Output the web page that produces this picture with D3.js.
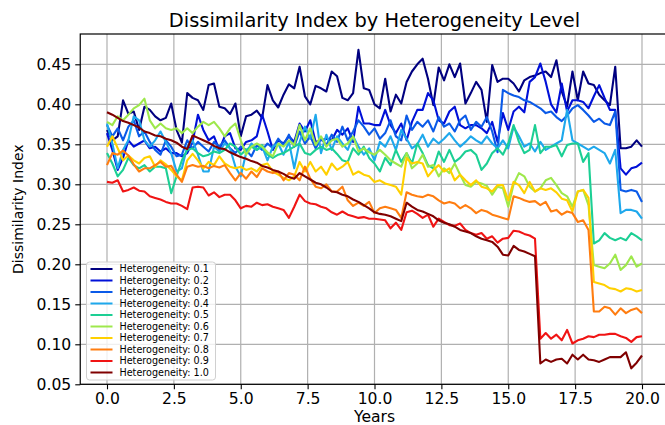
<!DOCTYPE html>
<html>
<head>
<meta charset="utf-8">
<script src="https://cdn.jsdelivr.net/npm/d3@7"></script>
<style>
  html, body { margin: 0; padding: 0; background: #ffffff; }
  text { font-family: "DejaVu Sans", sans-serif; }
</style>
</head>
<body>
<script>
// ---------------- data ----------------
const years = d3.range(101).map(i => +(i * 0.2).toFixed(1));

const seriesNames = ["Heterogeneity: 0.1","Heterogeneity: 0.2","Heterogeneity: 0.3","Heterogeneity: 0.4","Heterogeneity: 0.5",
                     "Heterogeneity: 0.6","Heterogeneity: 0.7","Heterogeneity: 0.8","Heterogeneity: 0.9","Heterogeneity: 1.0"];
const seriesColors = ["#000080","#0010d8","#0a5ae8","#1ea8ec","#1ccf94","#9ee84c","#ffd000","#ff7d10","#f01414","#800000"];

const h01 = [0.368,0.355,0.360,0.405,0.388,0.391,0.368,0.397,0.393,0.385,
             0.380,0.383,0.401,0.368,0.352,0.414,0.408,0.405,0.393,0.424,
             0.426,0.397,0.395,0.388,0.401,0.360,0.385,0.387,0.392,0.383,
             0.424,0.405,0.396,0.412,0.425,0.420,0.447,0.410,0.400,0.423,
             0.420,0.416,0.441,0.435,0.408,0.405,0.414,0.468,0.420,0.418,
             0.400,0.395,0.432,0.391,0.412,0.401,0.428,0.441,0.450,0.457,
             0.432,0.399,0.446,0.430,0.450,0.434,0.451,0.401,0.414,0.428,
             0.418,0.378,0.449,0.428,0.432,0.432,0.426,0.416,0.430,0.434,
             0.436,0.439,0.441,0.434,0.455,0.416,0.397,0.441,0.405,0.441,
             0.426,0.424,0.412,0.405,0.399,0.447,0.345,0.345,0.347,0.355,
             0.347];
const h02 = [0.364,0.343,0.318,0.333,0.355,0.347,0.351,0.355,0.345,0.347,
             0.341,0.345,0.339,0.339,0.335,0.339,0.353,0.387,0.368,0.355,
             0.360,0.343,0.360,0.364,0.345,0.343,0.353,0.355,0.360,0.387,
             0.366,0.343,0.355,0.351,0.360,0.353,0.376,0.366,0.380,0.353,
             0.355,0.357,0.355,0.368,0.362,0.370,0.353,0.397,0.376,0.376,
             0.374,0.374,0.393,0.374,0.364,0.376,0.355,0.378,0.393,0.393,
             0.414,0.405,0.380,0.376,0.391,0.397,0.374,0.370,0.374,0.374,
             0.370,0.364,0.378,0.353,0.389,0.368,0.391,0.397,0.390,0.428,
             0.434,0.451,0.428,0.400,0.390,0.426,0.391,0.405,0.405,0.403,
             0.395,0.410,0.424,0.408,0.393,0.393,0.320,0.312,0.320,0.322,
             0.327];
const h03 = [0.374,0.360,0.370,0.355,0.372,0.380,0.360,0.366,0.353,0.343,
             0.337,0.355,0.347,0.335,0.337,0.355,0.345,0.353,0.347,0.341,
             0.353,0.347,0.355,0.345,0.339,0.347,0.343,0.335,0.349,0.343,
             0.351,0.345,0.357,0.349,0.362,0.347,0.366,0.351,0.360,0.345,
             0.357,0.349,0.362,0.353,0.372,0.355,0.366,0.380,0.372,0.362,
             0.370,0.357,0.364,0.380,0.360,0.355,0.386,0.368,0.378,0.372,
             0.380,0.366,0.384,0.372,0.376,0.366,0.380,0.386,0.368,0.378,
             0.372,0.384,0.366,0.340,0.418,0.414,0.411,0.409,0.405,0.403,
             0.399,0.395,0.389,0.391,0.384,0.379,0.386,0.395,0.399,0.393,
             0.386,0.378,0.382,0.376,0.374,0.391,0.293,0.291,0.293,0.291,
             0.278];
const h04 = [0.376,0.351,0.320,0.343,0.355,0.385,0.380,0.355,0.347,0.355,
             0.366,0.353,0.339,0.316,0.320,0.347,0.355,0.337,0.316,0.316,
             0.347,0.341,0.351,0.345,0.322,0.310,0.339,0.351,0.343,0.347,
             0.330,0.347,0.351,0.337,0.353,0.320,0.353,0.372,0.357,0.387,
             0.339,0.362,0.343,0.360,0.351,0.343,0.360,0.347,0.337,0.345,
             0.330,0.353,0.347,0.360,0.343,0.368,0.357,0.345,0.350,0.362,
             0.347,0.357,0.351,0.357,0.364,0.355,0.347,0.353,0.360,0.355,
             0.351,0.360,0.351,0.345,0.355,0.345,0.372,0.360,0.347,0.351,
             0.341,0.353,0.343,0.347,0.351,0.355,0.393,0.355,0.351,0.347,
             0.343,0.347,0.343,0.339,0.326,0.343,0.264,0.268,0.268,0.266,
             0.257];
const h05 = [0.339,0.326,0.310,0.318,0.333,0.324,0.320,0.324,0.316,0.322,
             0.322,0.320,0.289,0.310,0.330,0.343,0.345,0.339,0.335,0.337,
             0.341,0.339,0.343,0.351,0.347,0.337,0.343,0.347,0.343,0.349,
             0.337,0.333,0.337,0.339,0.343,0.347,0.351,0.339,0.337,0.343,
             0.347,0.343,0.345,0.338,0.330,0.328,0.345,0.337,0.347,0.333,
             0.326,0.316,0.333,0.324,0.343,0.328,0.339,0.326,0.351,0.339,
             0.324,0.320,0.341,0.328,0.343,0.328,0.333,0.341,0.343,0.337,
             0.318,0.326,0.339,0.345,0.337,0.351,0.374,0.353,0.339,0.343,
             0.374,0.339,0.347,0.347,0.349,0.335,0.349,0.351,0.351,0.328,
             0.339,0.226,0.230,0.239,0.233,0.230,0.233,0.230,0.239,0.235,
             0.230];
const h06 = [0.378,0.374,0.385,0.380,0.387,0.395,0.399,0.407,0.380,0.370,
             0.376,0.370,0.368,0.370,0.364,0.370,0.364,0.372,0.378,0.374,
             0.378,0.370,0.360,0.370,0.376,0.355,0.337,0.347,0.351,0.347,
             0.340,0.335,0.351,0.347,0.355,0.349,0.374,0.355,0.370,0.349,
             0.360,0.347,0.355,0.357,0.347,0.351,0.360,0.341,0.345,0.340,
             0.337,0.343,0.337,0.330,0.326,0.322,0.339,0.320,0.326,0.337,
             0.322,0.324,0.310,0.320,0.314,0.326,0.312,0.299,0.297,0.303,
             0.301,0.298,0.287,0.297,0.295,0.272,0.300,0.314,0.310,0.297,
             0.291,0.295,0.305,0.308,0.299,0.289,0.285,0.272,0.291,0.293,
             0.274,0.199,0.197,0.195,0.201,0.212,0.193,0.199,0.210,0.197,
             0.201];
const h07 = [0.347,0.360,0.345,0.330,0.336,0.330,0.326,0.333,0.335,0.322,
             0.330,0.325,0.318,0.310,0.305,0.330,0.338,0.330,0.320,0.328,
             0.324,0.335,0.326,0.322,0.320,0.322,0.318,0.320,0.316,0.324,
             0.326,0.316,0.312,0.308,0.305,0.310,0.328,0.316,0.328,0.316,
             0.322,0.312,0.326,0.318,0.322,0.328,0.312,0.316,0.312,0.310,
             0.303,0.305,0.301,0.299,0.297,0.287,0.333,0.326,0.328,0.326,
             0.310,0.318,0.324,0.316,0.320,0.305,0.312,0.305,0.299,0.305,
             0.297,0.295,0.291,0.299,0.299,0.280,0.303,0.299,0.289,0.303,
             0.291,0.295,0.293,0.295,0.290,0.282,0.280,0.266,0.291,0.293,
             0.283,0.178,0.176,0.174,0.170,0.169,0.166,0.170,0.169,0.166,
             0.168];
const h08 = [0.324,0.339,0.337,0.342,0.336,0.325,0.316,0.320,0.320,0.324,
             0.328,0.322,0.323,0.312,0.303,0.322,0.324,0.322,0.323,0.320,
             0.323,0.321,0.324,0.314,0.305,0.314,0.307,0.316,0.309,0.320,
             0.316,0.314,0.316,0.305,0.314,0.312,0.305,0.322,0.307,0.297,
             0.295,0.300,0.291,0.291,0.297,0.280,0.273,0.277,0.273,0.278,
             0.264,0.270,0.272,0.270,0.268,0.258,0.290,0.287,0.285,0.284,
             0.287,0.285,0.280,0.276,0.278,0.276,0.270,0.274,0.270,0.264,
             0.268,0.266,0.262,0.260,0.258,0.256,0.285,0.283,0.280,0.278,
             0.279,0.274,0.278,0.266,0.268,0.262,0.266,0.264,0.253,0.255,
             0.243,0.141,0.141,0.147,0.145,0.137,0.145,0.139,0.143,0.145,
             0.139];
const h09 = [0.303,0.302,0.305,0.291,0.293,0.296,0.292,0.291,0.285,0.283,
             0.281,0.278,0.276,0.276,0.273,0.269,0.296,0.297,0.296,0.286,
             0.290,0.284,0.287,0.287,0.280,0.270,0.273,0.272,0.277,0.274,
             0.275,0.272,0.270,0.268,0.258,0.272,0.287,0.279,0.276,0.275,
             0.272,0.270,0.265,0.262,0.266,0.262,0.260,0.258,0.259,0.257,
             0.257,0.256,0.255,0.245,0.252,0.243,0.265,0.267,0.263,0.258,
             0.262,0.247,0.257,0.253,0.249,0.248,0.251,0.243,0.239,0.237,
             0.239,0.232,0.235,0.227,0.232,0.233,0.242,0.241,0.238,0.236,
             0.232,0.107,0.114,0.107,0.112,0.105,0.118,0.101,0.105,0.107,
             0.110,0.109,0.112,0.112,0.113,0.113,0.110,0.108,0.103,0.109,
             0.110];
const h10 = [0.390,0.387,0.383,0.379,0.377,0.374,0.371,0.366,0.364,0.361,
             0.360,0.357,0.355,0.352,0.347,0.344,0.361,0.358,0.355,0.352,
             0.348,0.345,0.344,0.340,0.337,0.334,0.332,0.329,0.327,0.323,
             0.321,0.318,0.316,0.313,0.309,0.307,0.314,0.310,0.306,0.302,
             0.300,0.296,0.291,0.290,0.287,0.285,0.281,0.278,0.274,0.270,
             0.265,0.263,0.262,0.260,0.257,0.254,0.277,0.272,0.268,0.266,
             0.263,0.260,0.255,0.252,0.250,0.247,0.243,0.241,0.239,0.235,
             0.232,0.230,0.228,0.222,0.212,0.211,0.223,0.218,0.216,0.213,
             0.210,0.076,0.081,0.078,0.081,0.082,0.076,0.087,0.081,0.087,
             0.081,0.080,0.078,0.081,0.084,0.084,0.084,0.090,0.070,0.077,
             0.086];

const xTicks = [0, 2.5, 5, 7.5, 10, 12.5, 15, 17.5, 20];
const yTicks = [0.05, 0.10, 0.15, 0.20, 0.25, 0.30, 0.35, 0.40, 0.45];

const allSeries = [h01,h02,h03,h04,h05,h06,h07,h08,h09,h10];

// ---------------- layout ----------------
const W = 665, H = 425;
const mLeft = 80.25, mRight = 668.75, mTop = 34, mBottom = 384.3;

const x = d3.scaleLinear().domain([-1, 21]).range([mLeft, mRight]);
const y = d3.scaleLinear().domain([0.05, 0.45]).range([mBottom, 64.3]);

const svg = d3.select("body").append("svg")
  .attr("width", W).attr("height", H)
  .style("display", "block");

svg.append("rect").attr("width", W).attr("height", H).attr("fill", "#fff");

svg.append("defs").append("clipPath").attr("id", "plotclip")
  .append("rect").attr("x", mLeft).attr("y", mTop)
  .attr("width", mRight - mLeft).attr("height", mBottom - mTop);

// grid
const grid = svg.append("g");
grid.selectAll("line.gx").data(xTicks).join("line")
  .attr("x1", d => x(d)).attr("x2", d => x(d))
  .attr("y1", mTop).attr("y2", mBottom)
  .attr("stroke", "#b0b0b0").attr("stroke-width", 1.2);
grid.selectAll("line.gy").data(yTicks).join("line")
  .attr("x1", mLeft).attr("x2", mRight)
  .attr("y1", d => y(d)).attr("y2", d => y(d))
  .attr("stroke", "#b0b0b0").attr("stroke-width", 1.2);

// series
const line = d3.line().x((d, i) => x(years[i])).y(d => y(d));
const plot = svg.append("g").attr("clip-path", "url(#plotclip)");
allSeries.forEach((s, k) => {
  plot.append("path").datum(s)
    .attr("d", line)
    .attr("fill", "none")
    .attr("stroke", seriesColors[k])
    .attr("stroke-width", 2.1)
    .attr("stroke-linejoin", "round");
});

// axes
const xAxis = d3.axisBottom(x).tickValues(xTicks).tickFormat(d3.format(".1f")).tickSize(5).tickPadding(4);
const yAxis = d3.axisLeft(y).tickValues(yTicks).tickFormat(d3.format(".2f")).tickSize(5).tickPadding(4);

const gx = svg.append("g").attr("transform", `translate(0,${mBottom})`).call(xAxis);
const gy = svg.append("g").attr("transform", `translate(${mLeft},0)`).call(yAxis);
[gx, gy].forEach(g => {
  g.select(".domain").remove();
  g.selectAll(".tick line").attr("stroke", "#000").attr("stroke-width", 1.1);
  g.selectAll(".tick text").attr("fill", "#000").style("font-size", "15.6px")
    .style("font-family", "'DejaVu Sans', sans-serif");
});

// spines
svg.append("rect").attr("x", mLeft).attr("y", mTop)
  .attr("width", mRight - mLeft).attr("height", mBottom - mTop)
  .attr("fill", "none").attr("stroke", "#000").attr("stroke-width", 1.2);

// title and labels
svg.append("text").attr("x", (mLeft + mRight) / 2).attr("y", 27)
  .attr("text-anchor", "middle").style("font-size", "19.4px").attr("fill", "#000")
  .text("Dissimilarity Index by Heterogeneity Level");
svg.append("text").attr("x", (mLeft + mRight) / 2).attr("y", 422)
  .attr("text-anchor", "middle").style("font-size", "15.6px").attr("fill", "#000")
  .text("Years");
svg.append("text")
  .attr("transform", `translate(23,${(mTop + mBottom) / 2}) rotate(-90)`)
  .attr("text-anchor", "middle").style("font-size", "14px").attr("fill", "#000")
  .text("Dissimilarity Index");

// legend
const lg = svg.append("g").attr("transform", "translate(86.5,262)");
lg.append("rect").attr("x", 0).attr("y", 0).attr("width", 129).attr("height", 118)
  .attr("rx", 3).attr("fill", "#fff").attr("fill-opacity", 0.8)
  .attr("stroke", "#d0d0d0").attr("stroke-width", 1);
seriesNames.forEach((name, k) => {
  const yy = 7 + k * 11.5;
  lg.append("line").attr("x1", 4).attr("x2", 26).attr("y1", yy).attr("y2", yy)
    .attr("stroke", seriesColors[k]).attr("stroke-width", 2);
  lg.append("text").attr("x", 33).attr("y", yy).attr("dy", "0.35em")
    .style("font-size", "9.6px").attr("fill", "#000").text(name);
});
</script>
</body>
</html>
